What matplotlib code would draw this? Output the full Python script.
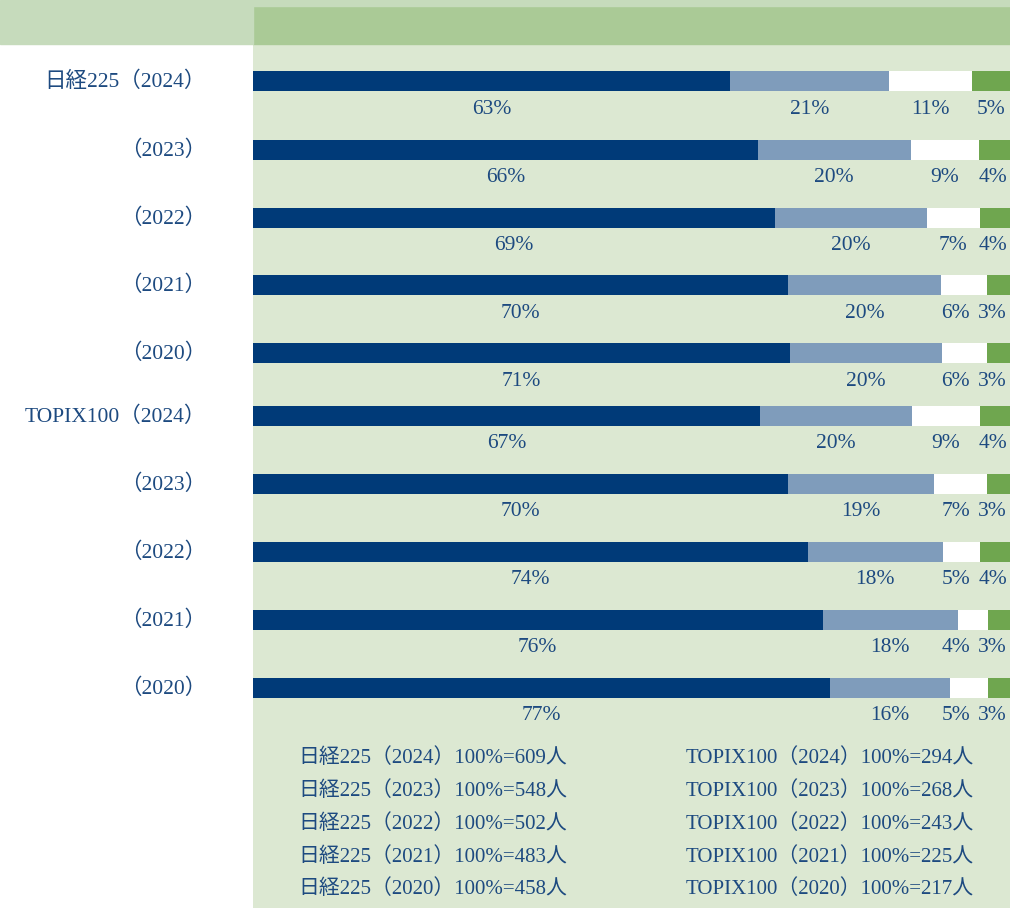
import numpy as np
import matplotlib
matplotlib.use('Agg')
import matplotlib.pyplot as plt
from matplotlib import transforms
from matplotlib.patches import Rectangle

plt.rcParams['font.family'] = ['Liberation Serif', 'Noto Sans CJK JP']

# data (share of people, %)
rows = ['日経225（2024）', '（2023）', '（2022）', '（2021）', '（2020）',
        'TOPIX100（2024）', '（2023）', '（2022）', '（2021）', '（2020）']
seg1 = [63, 66, 69, 70, 71, 67, 70, 74, 76, 77]
seg2 = [21, 20, 20, 20, 20, 20, 19, 18, 18, 16]
seg3 = [11, 9, 7, 6, 6, 9, 7, 5, 4, 5]
seg4 = [5, 4, 4, 3, 3, 4, 3, 4, 3, 3]
years = ['2024', '2023', '2022', '2021', '2020']
n225_n = [609, 548, 502, 483, 458]
topix_n = [294, 268, 243, 225, 217]

colors = ['#003a78', '#7f9cbb', '#ffffff', '#6fa64f']
txt = '#1d4a80'
bg = '#dce8d2'

W, H = 1012, 908
X0, XW = 253, 757          # plot area in pixels
fig = plt.figure(figsize=(W / 100, H / 100), dpi=100)
fig.patches.append(Rectangle((0, 1 - 44 / H), X0 / W, 44 / H,
                             transform=fig.transFigure, color='#c6dbbc', zorder=0))

ax = fig.add_axes([X0 / W, 0, XW / W, 1])
ax.set_xlim(0, 100)
ax.set_ylim(H, 0)
ax.axis('off')
ax.axhspan(44, H, color=bg, zorder=0)
ax.axhspan(6, 44, color='#aaca96', zorder=0)
ax.axhspan(0, 6, color='#c6dbbc', zorder=0)

def px(p):                 # pixel x -> percent
    return (p - X0) / XW * 100

# pixel row centres
ypos = np.array([81, 150, 218, 285, 353, 416, 484, 552, 620, 688])
fs = 15.5
cw = fs / 72 * 100 * 0.5   # digit width in px
def tw(s):                 # rough text width in px
    return cw * (len(s) - 1) + cw * 1.67

data = np.array([seg1, seg2, seg3, seg4], dtype=float)
tot = data.sum(axis=0)
scaled = data / tot * 100  # rounded shares may add to 101
left = np.zeros(len(rows))
centres = []
for vals, c in zip(scaled, colors):
    ax.barh(ypos, vals, left=left, height=20, color=c, zorder=2)
    centres.append(left + vals / 2)
    left += vals

for i, y in enumerate(ypos):
    labs = [f'{int(data[k][i])}%' for k in range(4)]
    xs = [c[i] for c in centres]
    # keep the two narrow right-hand labels apart and inside
    xs[3] = min(xs[3], px(1007 - tw(labs[3]) / 2))
    xs[2] = min(xs[2], xs[3] - px(X0 + tw(labs[3]) / 2 + 8 + tw(labs[2]) / 2))
    for x, s in zip(xs, labs):
        ax.text(x, y + 28, s, ha='center', va='center', fontsize=fs, color=txt)

tr = transforms.blended_transform_factory(fig.transFigure, ax.transData)
for y, lab in zip(ypos, rows):
    ax.text(206 / W, y + 1, lab, transform=tr, ha='right', va='center',
            fontsize=fs, color=txt)

# sample size notes
ly = [758, 791, 824, 857, 889]
for y, yr, a, b in zip(ly, years, n225_n, topix_n):
    ax.text(298 / W, y, f'日経225（{yr}）100%={a}人', transform=tr,
            ha='left', va='center', fontsize=15, color=txt)
    ax.text(686 / W, y, f'TOPIX100（{yr}）100%={b}人', transform=tr,
            ha='left', va='center', fontsize=15, color=txt)

fig.savefig('out.png', dpi=100, facecolor='white')
